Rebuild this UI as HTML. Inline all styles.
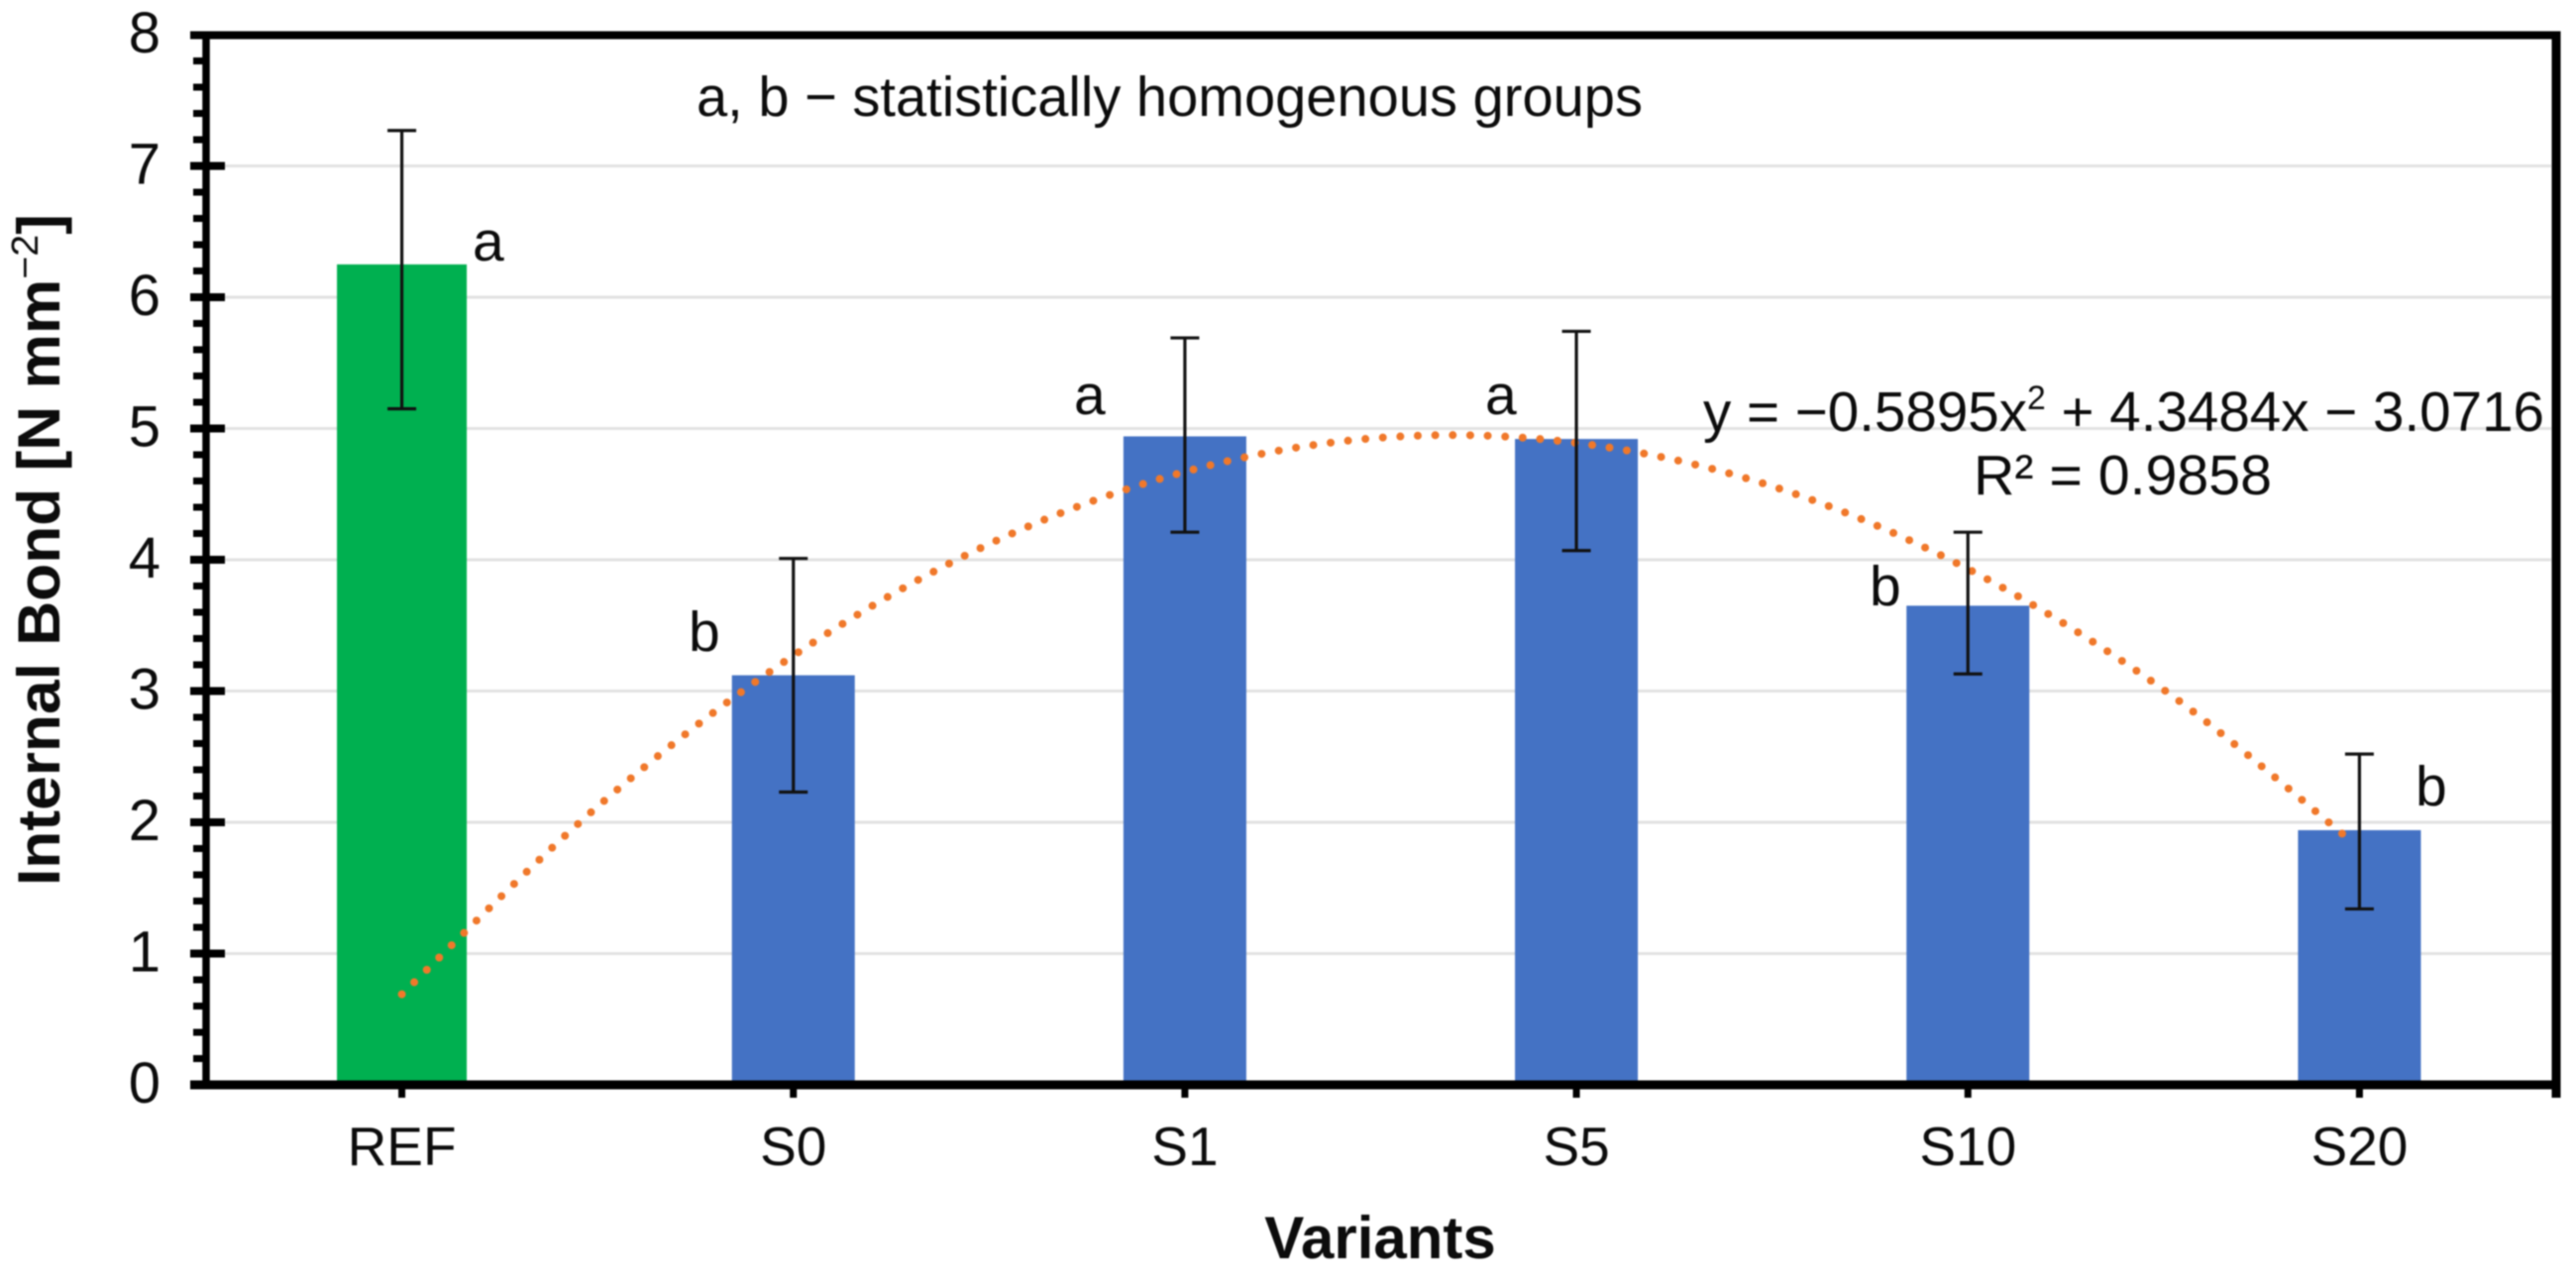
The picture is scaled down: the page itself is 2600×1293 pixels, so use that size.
<!DOCTYPE html>
<html lang="en">
<head>
<meta charset="utf-8">
<title>Internal Bond by Variant</title>
<style>
html,body{margin:0;padding:0;background:#fff;}
body{width:2600px;height:1293px;overflow:hidden;}
svg{display:block;font-family:"Liberation Sans",sans-serif;fill:#0c0c0c;filter:blur(0.7px);}
</style>
</head>
<body>
<svg id="chart" width="2600" height="1293" viewBox="0 0 2600 1293" xmlns="http://www.w3.org/2000/svg">
  <rect x="0" y="0" width="2600" height="1293" fill="#ffffff"/>
  <g id="grid"></g>
  <g id="bars"></g>
  <path id="trend" fill="none" stroke="#f0782a" stroke-width="8" stroke-linecap="round" stroke-dasharray="0 17.6"/>
  <g id="errs"></g>
  <g id="axes"></g>
  <g id="ylabels" font-size="58" text-anchor="end"></g>
  <g id="xlabels" font-size="55" text-anchor="middle"></g>

  <text transform="translate(60,894) rotate(-90)" font-size="60" font-weight="bold" textLength="678" lengthAdjust="spacingAndGlyphs">Internal Bond [N mm<tspan font-size="38" font-weight="normal" dy="-22">−2</tspan><tspan dy="22">]</tspan></text>
  <text x="1393" y="1270" font-size="60" font-weight="bold" text-anchor="middle">Variants</text>

  <text x="703" y="117" font-size="57" textLength="955" lengthAdjust="spacingAndGlyphs">a, b − statistically homogenous groups</text>
  <text x="1719" y="435" font-size="57" textLength="849" lengthAdjust="spacingAndGlyphs">y = −0.5895x<tspan font-size="34" dy="-22">2</tspan><tspan dy="22"> + 4.3484x − 3.0716</tspan></text>
  <text x="1992" y="499" font-size="57" textLength="301" lengthAdjust="spacingAndGlyphs">R² = 0.9858</text>

  <g font-size="57">
    <text x="477" y="263">a</text>
    <text x="695" y="657">b</text>
    <text x="1084" y="418">a</text>
    <text x="1499" y="418">a</text>
    <text x="1887" y="611">b</text>
    <text x="2438" y="813">b</text>
  </g>
</svg>
<script>
const categories = ['REF', 'S0', 'S1', 'S5', 'S10', 'S20'];
const barValues = [6.25, 3.12, 4.94, 4.92, 3.65, 1.94];
const errorHigh = [7.27, 4.01, 5.69, 5.74, 4.21, 2.52];
const errorLow = [5.15, 2.23, 4.21, 4.07, 3.13, 1.34];
const yTickLabels = [0, 1, 2, 3, 4, 5, 6, 7, 8];
const trendPositions = [1, 1.5, 2, 2.5, 3, 3.5, 4, 4.5, 5, 5.5, 5.99];
const trendValues = [0.69, 2.12, 3.27, 4.12, 4.67, 4.93, 4.89, 4.56, 3.93, 3.01, 1.83];

const NS = 'http://www.w3.org/2000/svg';
const plot = { left: 208, right: 2579, top: 35, bottom: 1095 };
const yMax = 8;
const step = (plot.right - plot.left) / categories.length;

function yScale(v) { return plot.bottom - (v / yMax) * (plot.bottom - plot.top); }
function xScale(pos) { return plot.left + (pos - 0.5) * step; }
function make(parent, tag, attrs) {
  const el = document.createElementNS(NS, tag);
  for (const k in attrs) el.setAttribute(k, attrs[k]);
  parent.appendChild(el);
  return el;
}

const grid = document.getElementById('grid');
const barsG = document.getElementById('bars');
const errs = document.getElementById('errs');
const axes = document.getElementById('axes');
const ylabels = document.getElementById('ylabels');
const xlabels = document.getElementById('xlabels');

yTickLabels.forEach(function (t) {
  const y = yScale(t);
  if (t > 0 && t < yMax) {
    const g = make(grid, 'line', { x1: 227, x2: 2575, y1: y, y2: y, stroke: '#e2e2e2', 'stroke-width': 3 });
    
    
    const tick = make(axes, 'line', { x1: 192, x2: 227, y1: y, y2: y, stroke: '#000', 'stroke-width': 8 });
    
    
  }
  const lab = make(ylabels, 'text', { x: 162, y: y + 18 });
  lab.textContent = String(t);
  
  
  if (t < yMax) {
    for (let m = 1; m < 5; m++) {
      const my = yScale(t + m * 0.2);
      const mt = make(axes, 'line', { x1: 195, x2: 208, y1: my, y2: my, stroke: '#000', 'stroke-width': 7 });
      
      
    }
  }
});

categories.forEach(function (c, i) {
  const cx = xScale(i + 1);
  const w = i === 0 ? 131 : 124;
  const top = yScale(barValues[i]);
  const bar = make(barsG, 'rect', { x: cx - w / 2, y: top, width: w, height: plot.bottom - top, fill: i === 0 ? '#00b050' : '#4472c4' });
  
  

  const hi = yScale(errorHigh[i]);
  const lo = yScale(errorLow[i]);
  const stem = make(errs, 'line', { x1: cx, x2: cx, y1: hi, y2: lo, stroke: '#111', 'stroke-width': 3.2 });
  
  
  const capHi = make(errs, 'line', { x1: cx - 14.5, x2: cx + 14.5, y1: hi, y2: hi, stroke: '#111', 'stroke-width': 3.2 });
  
  
  const capLo = make(errs, 'line', { x1: cx - 14.5, x2: cx + 14.5, y1: lo, y2: lo, stroke: '#111', 'stroke-width': 3.2 });
  
  

  const xt = make(axes, 'line', { x1: cx, x2: cx, y1: plot.bottom, y2: 1108, stroke: '#000', 'stroke-width': 7 });
  
  
  const lab = make(xlabels, 'text', { x: cx, y: 1176 });
  lab.textContent = c;
  
  
});

const pts = trendValues.map(function (v, i) { return [xScale(trendPositions[i]), yScale(v)]; });
let d = 'M' + pts[0][0] + ' ' + pts[0][1];
for (let i = 0; i < pts.length - 1; i++) {
  const p0 = pts[Math.max(i - 1, 0)], p1 = pts[i], p2 = pts[i + 1], p3 = pts[Math.min(i + 2, pts.length - 1)];
  d += ' C' + (p1[0] + (p2[0] - p0[0]) / 6) + ' ' + (p1[1] + (p2[1] - p0[1]) / 6) + ' ' +
       (p2[0] - (p3[0] - p1[0]) / 6) + ' ' + (p2[1] - (p3[1] - p1[1]) / 6) + ' ' + p2[0] + ' ' + p2[1];
}
const trendEl = document.getElementById('trend');
trendEl.setAttribute('d', d);
const trendLen = trendEl.getTotalLength();
trendEl.setAttribute('stroke-dasharray', '0 ' + (trendLen / Math.round(trendLen / 17.6)));

const frame = [
  ['plot-top-border', 192, plot.top + 0.5, plot.right + 5.5, plot.top + 0.5, 8],
  ['plot-bottom-axis', 192, plot.bottom, plot.right + 5.5, plot.bottom, 9],
  ['plot-left-axis', plot.left, plot.top, plot.left, plot.bottom + 4, 7.5],
  ['plot-right-border', plot.right + 1, plot.top, plot.right + 1, 1108, 9]
];
frame.forEach(function (f) {
  const ln = make(axes, 'line', { x1: f[1], y1: f[2], x2: f[3], y2: f[4], stroke: '#000', 'stroke-width': f[5] });
  
  
});
</script>
</body>
</html>
